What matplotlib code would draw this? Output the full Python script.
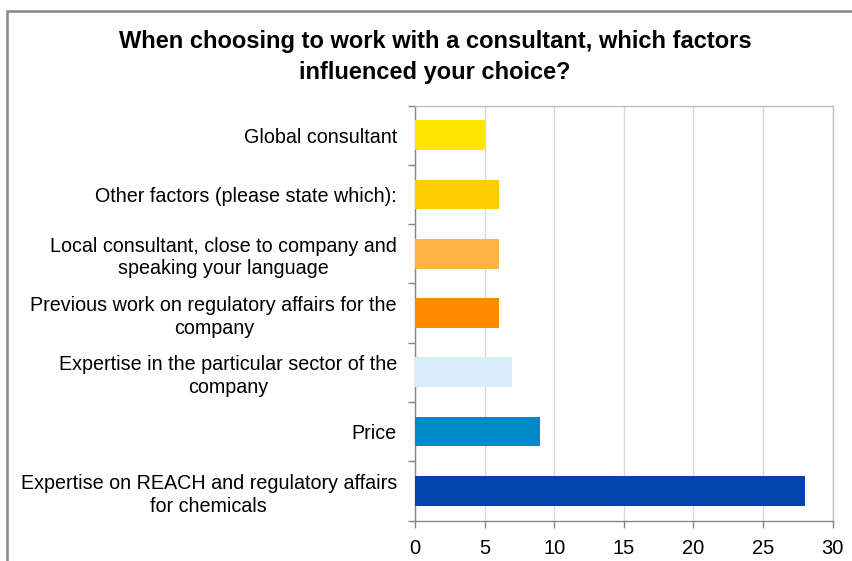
import matplotlib.pyplot as plt
from matplotlib.patches import Rectangle

plt.rcParams['font.family'] = ['Liberation Sans', 'DejaVu Sans']

title = "When choosing to work with a consultant, which factors\ninfluenced your choice?"

categories = [
    "Global consultant",
    "Other factors (please state which):",
    "Local consultant, close to company and\nspeaking your language",
    "Previous work on regulatory affairs for the\ncompany",
    "Expertise in the particular sector of the\ncompany",
    "Price",
    "Expertise on REACH and regulatory affairs\nfor chemicals",
]
values = [5, 6, 6, 6, 7, 9, 28]
colors = ["#FFE600", "#FFCC00", "#FFB347", "#FF8A00", "#D7EEF9", "#0089C7", "#0045AC"]

fig = plt.figure(figsize=(8.53, 5.61), dpi=100)
ax = fig.add_axes([415 / 853, 1 - 520.5 / 561, (832.7 - 415) / 853, (520.5 - 105.5) / 561])

# outer chart frame (runs off the right and bottom edges)
fig.patches.append(Rectangle((7.5 / 853, -0.1), 1.2, 1.1 - 10.5 / 561,
                             transform=fig.transFigure, fill=False,
                             edgecolor="#878787", linewidth=1.8, clip_on=False))

pos = list(range(len(categories)))
ax.barh(pos, values, height=0.5, color=colors, zorder=3)
ax.set_ylim(len(categories) - 0.5, -0.5)
ax.set_xlim(0, 30)
ax.set_xticks(range(0, 31, 5))
ax.set_yticks(pos)
ax.set_yticklabels(categories, fontsize=14.2, multialignment="center", linespacing=1.25)
ax.set_yticks([p + 0.5 for p in range(-1, len(categories))], minor=True)
ax.tick_params(axis="y", which="major", length=0, pad=13)
ax.tick_params(axis="y", which="minor", length=5, color="#868686", width=1)
ax.tick_params(axis="x", length=5, color="#868686", width=1, labelsize=14.5, pad=8)

ax.grid(axis="x", color="#D9D9D9", linewidth=1, zorder=0)
for s in ax.spines.values():
    s.set_color("#BFBFBF")
    s.set_linewidth(1)
ax.spines["left"].set_color("#868686")
ax.spines["bottom"].set_color("#868686")

fig.text(435 / 853, 1 - 57 / 561, title, ha="center", va="center",
         fontsize=17, fontweight="bold", linespacing=1.4)

fig.savefig("out.png", dpi=100)
